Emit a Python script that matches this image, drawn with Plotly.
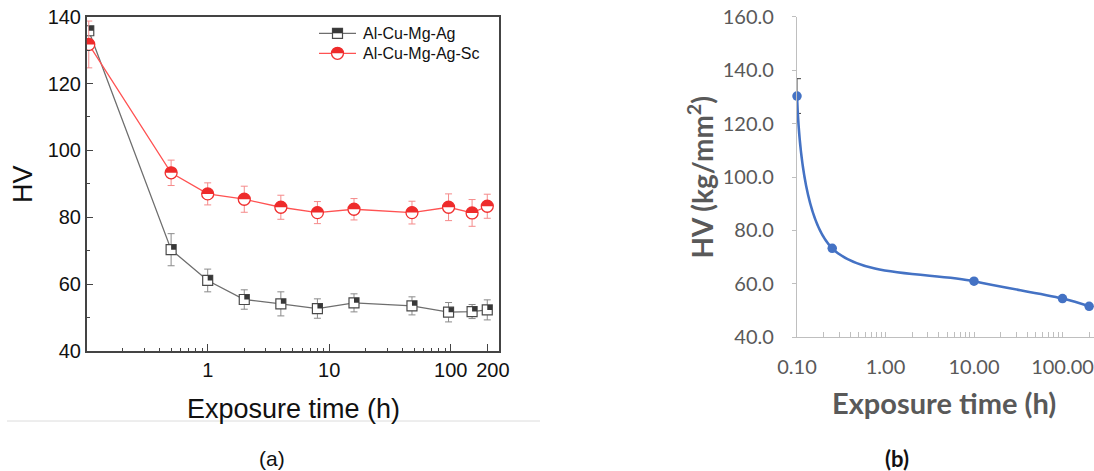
import plotly.graph_objects as go

W, H = 1094, 471

# ---------------- data: panel (a) ----------------
time_a = [0.105, 0.5, 1, 2, 4, 8, 16, 48, 96, 150, 200]
hv_ag = [135.8, 70.3, 61.1, 55.4, 54.1, 52.7, 54.4, 53.5, 51.6, 51.8, 52.3]
err_ag = [1.0, 4.8, 3.4, 2.9, 3.6, 2.9, 2.7, 2.7, 2.9, 2.1, 3.0]
hv_sc = [131.7, 93.3, 87.0, 85.4, 83.0, 81.4, 82.4, 81.4, 83.0, 81.3, 83.3]
err_sc = [7.0, 3.8, 3.3, 3.9, 3.6, 3.3, 3.2, 3.4, 4.0, 4.0, 3.6]
series_names = ["Al-Cu-Mg-Ag", "Al-Cu-Mg-Ag-Sc"]
xticks_a = [1, 10, 100, 200]
xticktext_a = ["1", "10", "100", "\u00a0\u00a0200"]
xminor_a = [0.2, 0.3, 0.4, 0.5, 0.6, 0.7, 0.8, 0.9, 2, 3, 4, 5, 6, 7, 8, 9,
            20, 30, 40, 50, 60, 70, 80, 90]
yticks_a = [40, 60, 80, 100, 120, 140]
yminor_a = [50, 70, 90, 110, 130]

# ---------------- data: panel (b) ----------------
time_b = [0.1, 0.25, 10, 100, 200]
hv_b = [130.3, 73.3, 61.0, 54.5, 51.6]
err_b = [6.5, 0, 0, 0, 0]
xticks_b = [0.1, 1, 10, 100]
xticktext_b = ["0.10", "1.00", "10.00", "100.00"]
xminor_b = [0.2, 0.3, 0.4, 0.5, 0.6, 0.7, 0.8, 0.9, 2, 3, 4, 5, 6, 7, 8, 9,
            20, 30, 40, 50, 60, 70, 80, 90, 200]
yticks_b = [40, 60, 80, 100, 120, 140, 160]


def px(x):
    return x / W


def py(y):
    return 1 - y / H


BLACK_LINE = "#6e6e6e"
BLACK_FILL = "#383838"
BLACK_EDGE = "#4a4a4a"
RED_LINE = "#ff5252"
RED_FILL = "#ee2b2b"
RED_EDGE = "#f03030"
BLUE = "#4472C4"
GRAY_TXT = "#595959"
GRAY_AX = "#bfbfbf"

fig = go.Figure()

# Panel (a) traces
fig.add_trace(go.Scatter(
    x=time_a, y=hv_ag, mode="lines+markers", name=series_names[0],
    line=dict(color=BLACK_LINE, width=1.3),
    marker=dict(symbol="square", size=10, color="white",
                line=dict(color=BLACK_EDGE, width=1.2)),
    error_y=dict(type="data", array=err_ag, color="#8a8a8a", thickness=1, width=3.5),
    xaxis="x", yaxis="y", showlegend=False))
fig.add_trace(go.Scatter(
    x=time_a, y=hv_sc, mode="lines+markers", name=series_names[1],
    line=dict(color=RED_LINE, width=1.3),
    marker=dict(symbol="circle", size=12, color="white",
                line=dict(color=RED_EDGE, width=1.3)),
    error_y=dict(type="data", array=err_sc, color="#f58a8a", thickness=1, width=3.5),
    xaxis="x", yaxis="y", showlegend=False))

# Panel (b) trace
fig.add_trace(go.Scatter(
    x=time_b, y=hv_b, mode="lines+markers", line_shape="spline",
    line=dict(color=BLUE, width=2.6, smoothing=1.0),
    marker=dict(symbol="circle", size=9.5, color=BLUE),
    error_y=dict(type="data", array=err_b, color="#404040", thickness=1, width=4),
    cliponaxis=False, xaxis="x2", yaxis="y2", showlegend=False))

shapes = []
SQ = 5
R = 6
K = 0.5523 * R
half_circle = (f"M -{R},0 C -{R},{K:.2f} -{K:.2f},{R} 0,{R} "
               f"C {K:.2f},{R} {R},{K:.2f} {R},0 Z")
# half-filled markers (top half dark)
for t, v in zip(time_a, hv_ag):
    shapes.append(dict(type="rect", xref="x", yref="y", xsizemode="pixel", ysizemode="pixel",
                       xanchor=t, yanchor=v, x0=-SQ, x1=SQ, y0=0, y1=SQ,
                       fillcolor=BLACK_FILL, line=dict(width=0), layer="above"))
for t, v in zip(time_a, hv_sc):
    shapes.append(dict(type="path", xref="x", yref="y", xsizemode="pixel", ysizemode="pixel",
                       xanchor=t, yanchor=v, path=half_circle,
                       fillcolor=RED_FILL, line=dict(width=0), layer="above"))

# manual legend for panel (a)
leg_rows = [33.3, 53.3]
leg_styles = [
    dict(line=BLACK_LINE, kind="sq"),
    dict(line=RED_LINE, kind="ci"),
]
annotations = []
for name, yy, st in zip(series_names, leg_rows, leg_styles):
    shapes.append(dict(type="line", xref="paper", yref="paper",
                       x0=px(319), x1=px(356), y0=py(yy), y1=py(yy),
                       line=dict(color=st["line"], width=1.3)))
    if st["kind"] == "sq":
        shapes.append(dict(type="rect", xref="paper", yref="paper", xsizemode="pixel",
                           ysizemode="pixel", xanchor=px(337.5), yanchor=py(yy),
                           x0=-SQ, x1=SQ, y0=-SQ, y1=SQ, fillcolor="white",
                           line=dict(color=BLACK_EDGE, width=1.2)))
        shapes.append(dict(type="rect", xref="paper", yref="paper", xsizemode="pixel",
                           ysizemode="pixel", xanchor=px(337.5), yanchor=py(yy),
                           x0=-SQ, x1=SQ, y0=0, y1=SQ, fillcolor=BLACK_FILL,
                           line=dict(width=0)))
    else:
        shapes.append(dict(type="circle", xref="paper", yref="paper", xsizemode="pixel",
                           ysizemode="pixel", xanchor=px(337.5), yanchor=py(yy),
                           x0=-R, x1=R, y0=-R, y1=R, fillcolor="white",
                           line=dict(color=RED_EDGE, width=1.3)))
        shapes.append(dict(type="path", xref="paper", yref="paper", xsizemode="pixel",
                           ysizemode="pixel", xanchor=px(337.5), yanchor=py(yy),
                           path=half_circle, fillcolor=RED_FILL, line=dict(width=0)))
    annotations.append(dict(text=name, xref="paper", yref="paper", x=px(361), y=py(yy),
                            xanchor="left", yanchor="middle", showarrow=False,
                            font=dict(family="Liberation Sans, Arial", size=16, color="#111")))

# separator line under panel (a)
shapes.append(dict(type="line", xref="paper", yref="paper", x0=px(7), x1=px(540),
                   y0=py(421), y1=py(421), line=dict(color="#dcdcdc", width=1)))

# axis titles and panel labels
ARIAL = "Liberation Sans, Arial"
LATO = "Lato, Open Sans"
annotations += [
    dict(text="HV", xref="paper", yref="paper", x=px(23), y=py(184), textangle=-90,
         showarrow=False, xanchor="center", yanchor="middle",
         font=dict(family=ARIAL, size=27, color="#111")),
    dict(text="Exposure time (h)", xref="paper", yref="paper", x=px(293.5), y=py(408.5),
         showarrow=False, xanchor="center", yanchor="middle",
         font=dict(family=ARIAL, size=27, color="#111")),
    dict(text="(a)", xref="paper", yref="paper", x=px(272), y=py(458),
         showarrow=False, xanchor="center", yanchor="middle",
         font=dict(family=ARIAL, size=21, color="#111")),
    dict(text="<b>HV (kg/mm<sup>2</sup>)</b>", xref="paper", yref="paper", x=px(701), y=py(177.5),
         textangle=-90, showarrow=False, xanchor="center", yanchor="middle",
         font=dict(family=LATO, size=28, color=GRAY_TXT)),
    dict(text="<b>Exposure time (h)</b>", xref="paper", yref="paper", x=px(943.5), y=py(402),
         showarrow=False, xanchor="center", yanchor="middle",
         font=dict(family=LATO, size=29, color=GRAY_TXT)),
    dict(text="<b>(b)</b>", xref="paper", yref="paper", x=px(897), y=py(458),
         showarrow=False, xanchor="center", yanchor="middle",
         font=dict(family=LATO, size=22, color="#111")),
]

fig.update_layout(
    width=W, height=H, autosize=False,
    margin=dict(l=0, r=0, t=0, b=0, pad=0),
    paper_bgcolor="white", plot_bgcolor="white",
    shapes=shapes, annotations=annotations,
    xaxis=dict(
        type="log", domain=[px(86.8), px(499.3)], range=[-0.995, 2.40],
        automargin=False, tickangle=0,
        showline=True, linecolor="#444", linewidth=1.6, mirror=True,
        showgrid=False, zeroline=False,
        tickmode="array", tickvals=xticks_a, ticktext=xticktext_a,
        ticks="inside", ticklen=7, tickwidth=1.2, tickcolor="#444",
        tickfont=dict(family=ARIAL, size=20, color="#111"),
        minor=dict(tickmode="array", tickvals=xminor_a, ticks="inside",
                   ticklen=3.5, tickwidth=1.2, tickcolor="#444", showgrid=False),
        anchor="y"),
    yaxis=dict(
        domain=[py(351), py(16.7)], range=[40, 140],
        automargin=False,
        showline=True, linecolor="#444", linewidth=1.6, mirror=True,
        showgrid=False, zeroline=False,
        tickmode="array", tickvals=yticks_a,
        ticks="inside", ticklen=6, tickwidth=1.2, tickcolor="#444",
        tickfont=dict(family=ARIAL, size=20, color="#111"),
        minor=dict(tickmode="array", tickvals=yminor_a, ticks="inside",
                   ticklen=3.5, tickwidth=1.2, tickcolor="#444", showgrid=False),
        anchor="x"),
    xaxis2=dict(
        type="log", domain=[px(797), 1.0], range=[-1.0, 2.356],
        automargin=False, tickangle=0,
        showline=True, linecolor=GRAY_AX, linewidth=1.3, mirror=False,
        showgrid=False, zeroline=False,
        tickmode="array", tickvals=xticks_b, ticktext=xticktext_b,
        ticks="inside", ticklen=5, tickwidth=1, tickcolor=GRAY_AX,
        ticklabelstandoff=12,
        tickfont=dict(family=LATO, size=20, color=GRAY_TXT),
        minor=dict(tickmode="array", tickvals=xminor_b, ticks="inside",
                   ticklen=5, tickwidth=1, tickcolor=GRAY_AX, showgrid=False),
        anchor="y2"),
    yaxis2=dict(
        domain=[py(337.3), py(16.7)], range=[40, 160],
        automargin=False,
        showline=True, linecolor=GRAY_AX, linewidth=1.3,
        showgrid=False, zeroline=False,
        tickmode="array", tickvals=yticks_b, tickformat=".1f",
        ticks="outside", ticklen=4, tickwidth=1, tickcolor=GRAY_AX,
        ticklabelstandoff=14,
        tickfont=dict(family=LATO, size=20, color=GRAY_TXT),
        anchor="x2"),
)

fig.write_html("out.html")
